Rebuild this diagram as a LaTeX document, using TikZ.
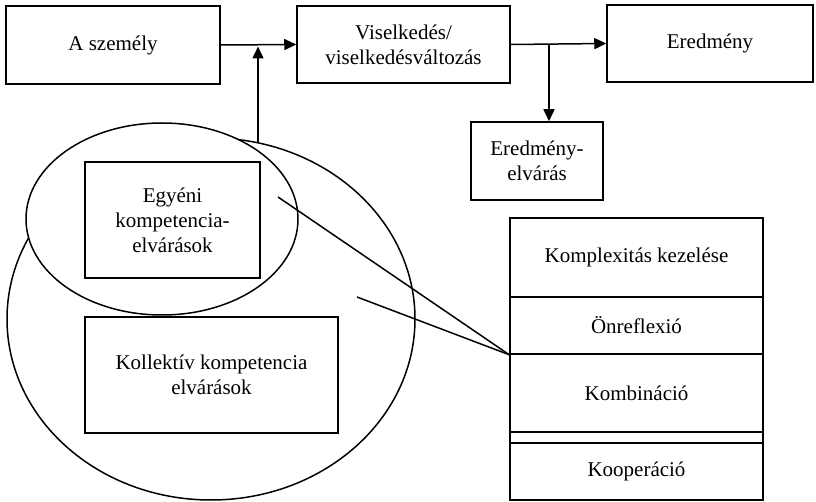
\documentclass[tikz,border=0pt]{standalone}
\usepackage{fontspec}
\setmainfont{Liberation Serif}
\usetikzlibrary{arrows.meta}
\begin{document}
\begin{tikzpicture}[x=1pt,y=-1pt,
  box/.style={draw,fill=white,line width=1.5pt,inner sep=0pt,align=center,font=\fontsize{21}{25}\selectfont},
  arr/.style={line width=1.5pt,-{Triangle[length=12pt,width=11pt]}},
  conn/.style={line width=1.5pt}]
\useasboundingbox (0,0) rectangle (816,502);
% top row
\node[box,minimum width=214pt,minimum height=78pt] (A) at (113,45) {A személy};
\node[box,minimum width=213pt,minimum height=77pt] (V) at (403.5,44.5) {Viselkedés/\\viselkedésváltozás};
\node[box,minimum width=206pt,minimum height=77pt] (E) at (710,43.5) {Eredmény};
\node[box,minimum width=132pt,minimum height=78pt] (EE) at (537,161) {Eredmény-\\elvárás};
% ellipses
\draw[conn] (211,319) ellipse [x radius=204, y radius=181];
\draw[conn,fill=white] (162,219) ellipse [x radius=136, y radius=96];
\coordinate (bigtop) at (258,143);
% inner boxes
\node[box,minimum width=175pt,minimum height=116pt] (Egy) at (172.5,220) {Egyéni\\kompetencia-\\elvárások};
\node[box,minimum width=253pt,minimum height=116pt] (Kol) at (211.5,375) {Kollektív kompetencia\\elvárások};
% stack
\node[box,minimum width=253pt,minimum height=79pt] (s1) at (636.5,257.5) {Komplexitás kezelése};
\node[box,minimum width=253pt,minimum height=57pt] (s2) at (636.5,325.5) {Önreflexió};
\node[box,minimum width=253pt,minimum height=78pt] (s3) at (636.5,393) {Kombináció};
\node[box,minimum width=253pt,minimum height=11pt] (s4) at (636.5,437.5) {};
\node[box,minimum width=253pt,minimum height=57pt] (s5) at (636.5,471.5) {Kooperáció};
% connectors
\coordinate (j2) at (549,45);
\draw[arr] (A.east) -- (V.west);
\draw[arr] (bigtop) -- (258,46.5);
\draw[arr] (V.east) -- (E.west);
\draw[arr] (j2) -- (j2 |- EE.north);
\coordinate (l1) at (278,197);
\coordinate (l2) at (357,297);
\draw[conn] (l1) -- (s2.south west);
\draw[conn] (l2) -- (s2.south west);
\end{tikzpicture}
\end{document}
